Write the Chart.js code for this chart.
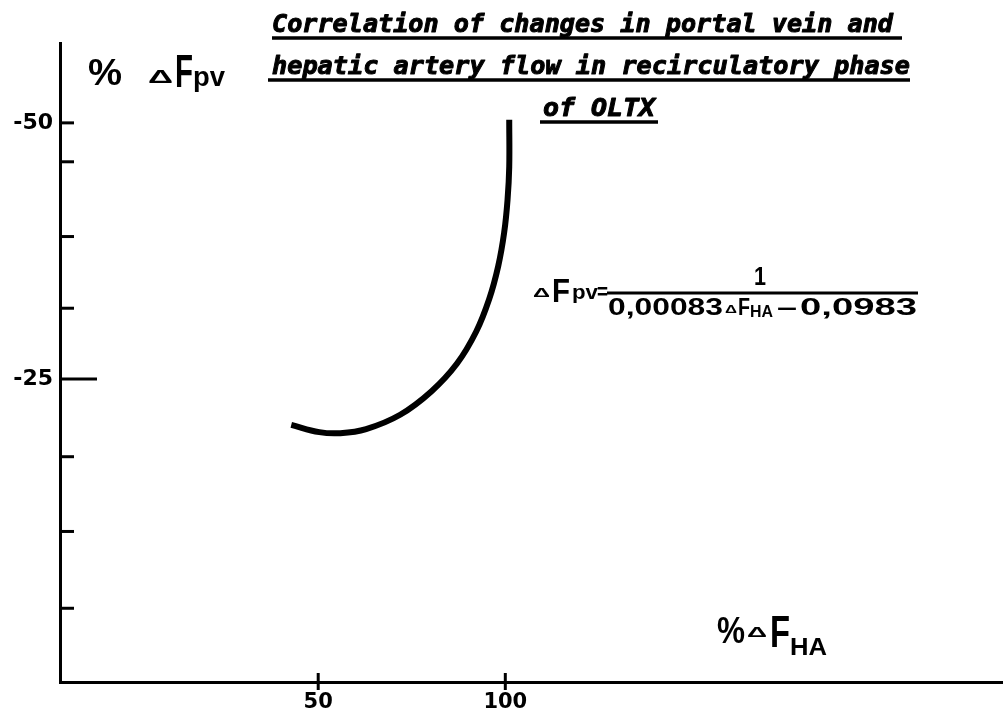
<!DOCTYPE html>
<html>
<head>
<meta charset="utf-8">
<script src="https://cdn.jsdelivr.net/npm/chart.js@4.4.1/dist/chart.umd.min.js"></script>
<style>
  html, body { margin: 0; padding: 0; background: #ffffff; }
  #wrap { width: 1003px; height: 717px; }
</style>
</head>
<body>
<div id="wrap"><canvas id="c" width="1003" height="717"></canvas></div>
<script>
// ---- data ----
const fha = [42.8, 50.3, 55.9, 62.8, 71.9, 80.3, 87.1, 92.2, 95.7, 98.1, 99.7, 100.6, 101.05, 101.05];
const fpv = [-20.5, -19.8, -19.7, -20.1, -21.5, -23.8, -26.5, -29.6, -32.8, -36.0, -39.3, -42.5, -45.7, -50.3];
const xTickValues = [50, 100];
const xTickLabels = ['50', '100'];
const yTickValues = [-50, -25];
const yTickLabels = ['-50', '-25'];
const yMinorTicks = [-46.2, -38.9, -31.9, -17.4, -10.1, -2.6];
const titleLines = ['Correlation of changes in portal vein and', 'hepatic artery flow in recirculatory phase', 'of OLTX'];

function fitText(ctx, str, x0, x1, baseline, size, family, style, heavy) {
  ctx.save();
  ctx.font = style + ' ' + size + 'px ' + family;
  ctx.textAlign = 'left';
  ctx.textBaseline = 'alphabetic';
  const w = ctx.measureText(str).width;
  ctx.translate(x0, baseline);
  ctx.scale((x1 - x0) / w, 1);
  ctx.fillStyle = '#000';
  ctx.fillText(str, 0, 0);
  if (heavy) {
    ctx.strokeStyle = '#000';
    ctx.lineWidth = heavy;
    ctx.lineJoin = 'round';
    ctx.strokeText(str, 0, 0);
  }
  ctx.restore();
}
function hline(ctx, x0, x1, y, w) {
  ctx.save();
  ctx.strokeStyle = '#000';
  ctx.lineWidth = w;
  ctx.beginPath(); ctx.moveTo(x0, y); ctx.lineTo(x1, y); ctx.stroke();
  ctx.restore();
}

const decor = {
  id: 'decor',
  afterDraw(chart) {
    const ctx = chart.ctx;
    const xs = chart.scales.x, ys = chart.scales.y;
    const left = chart.chartArea.left, bottom = chart.chartArea.bottom;
    ctx.save();
    ctx.strokeStyle = '#000';
    ctx.lineWidth = 3;
    // y tick marks (inside)
    yTickValues.concat(yMinorTicks).forEach(v => {
      const py = ys.getPixelForValue(v);
      const len = (v === -25) ? 37 : 14;
      ctx.beginPath(); ctx.moveTo(left, py); ctx.lineTo(left + len, py); ctx.stroke();
    });
    // x tick marks (crossing)
    xTickValues.forEach(v => {
      const px = xs.getPixelForValue(v);
      ctx.beginPath(); ctx.moveTo(px, bottom - 9); ctx.lineTo(px, bottom + 8); ctx.stroke();
    });
    ctx.restore();

    // Title
    const tf = '"DejaVu Sans Mono"';
    fitText(ctx, titleLines[0], 272, 893, 32, 25, tf, 'italic bold', 1);
    fitText(ctx, titleLines[1], 272, 910, 74, 25, tf, 'italic bold', 1);
    fitText(ctx, titleLines[2], 543, 655, 116, 25, tf, 'italic bold', 1);
    hline(ctx, 272, 902, 38, 3.5);
    hline(ctx, 268, 910, 80, 3.5);
    hline(ctx, 540, 658, 122, 3.5);

    const sf = '"Liberation Sans"';
    // y axis label  % ΔFpv
    fitText(ctx, '%', 88, 122, 85, 36, sf, 'bold');
    fitText(ctx, 'Δ', 148, 173, 83, 18, sf, 'bold');
    fitText(ctx, 'F', 175, 193, 87, 46, sf, 'bold');
    fitText(ctx, 'pv', 193, 225, 86, 28, sf, 'bold');

    // x axis label  %ΔF_HA
    fitText(ctx, '%', 717, 745, 643, 36, sf, 'bold');
    fitText(ctx, 'Δ', 747, 767, 637, 14, sf, 'bold');
    fitText(ctx, 'F', 770, 790, 647, 44, sf, 'bold');
    fitText(ctx, 'HA', 790, 827, 655, 23, sf, 'bold');

    // formula
    fitText(ctx, 'Δ', 533, 550, 297, 13, sf, 'bold');
    fitText(ctx, 'F', 552, 570, 302, 33, sf, 'bold');
    fitText(ctx, 'pv', 572, 598, 299, 21, sf, 'bold');
    fitText(ctx, '=', 597, 608, 299, 22, sf, 'bold');
    hline(ctx, 607, 918, 293, 3);
    fitText(ctx, '1', 754, 766, 285, 25, sf, 'bold');
    fitText(ctx, '0,00083', 608, 723, 315, 23, sf, 'bold');
    fitText(ctx, 'Δ', 725, 737, 313, 11, sf, 'bold');
    fitText(ctx, 'F', 738, 750, 315, 23, sf, 'bold');
    fitText(ctx, 'HA', 750, 773, 317, 17, sf, 'bold');
    fitText(ctx, '–', 777, 797, 315, 23, sf, 'bold');
    fitText(ctx, '0,0983', 800, 917, 315, 23, sf, 'bold');
  }
};

new Chart(document.getElementById('c'), {
  type: 'scatter',
  data: {
    datasets: [{
      data: fha.map((x, i) => ({ x: x, y: fpv[i] })),
      showLine: true,
      borderColor: '#000',
      borderWidth: 6,
      pointRadius: 0,
      tension: 0.4,
      fill: false
    }]
  },
  options: {
    responsive: false,
    animation: false,
    devicePixelRatio: 1,
    layout: { padding: { top: 43, left: 0, right: 0, bottom: 0 } },
    plugins: { legend: { display: false }, tooltip: { enabled: false }, title: { display: false } },
    scales: {
      x: {
        type: 'linear',
        min: -19, max: 233,
        grid: { display: false, drawTicks: false },
        border: { display: true, color: '#000', width: 3 },
        afterBuildTicks: s => { s.ticks = xTickValues.map(v => ({ value: v })); },
        afterFit: s => { s.height = 35; },
        ticks: {
          padding: 8,
          color: '#000',
          font: { family: '"DejaVu Sans"', size: 21, weight: 'bold' },
          callback: (v, i) => xTickLabels[i]
        }
      },
      y: {
        type: 'linear',
        reverse: true,
        min: -57.8, max: 4.6,
        grid: { display: false, drawTicks: false },
        border: { display: true, color: '#000', width: 3 },
        afterBuildTicks: s => { s.ticks = yTickValues.map(v => ({ value: v })); },
        afterFit: s => { s.width = 60; },
        ticks: {
          padding: 7,
          color: '#000',
          font: { family: '"DejaVu Sans"', size: 22, weight: 'bold' },
          callback: (v, i) => yTickLabels[i]
        }
      }
    }
  },
  plugins: [decor]
});
</script>
</body>
</html>
